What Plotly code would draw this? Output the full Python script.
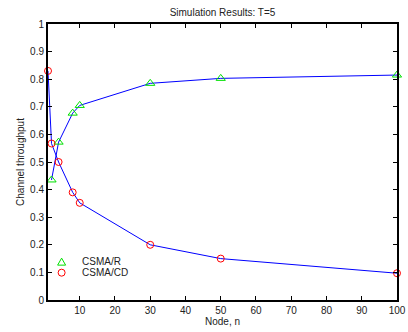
import plotly.graph_objects as go

nodes_r = [2, 4, 8, 10, 30, 50, 100]
csma_r = [0.435, 0.572, 0.677, 0.705, 0.785, 0.803, 0.815]
nodes_cd = [1, 2, 4, 8, 10, 30, 50, 100]
csma_cd = [0.830, 0.567, 0.500, 0.390, 0.352, 0.200, 0.150, 0.097]
legend_names = ["CSMA/R", "CSMA/CD"]

x_ticks = [10, 20, 30, 40, 50, 60, 70, 80, 90, 100]
y_ticks = [0, 0.1, 0.2, 0.3, 0.4, 0.5, 0.6, 0.7, 0.8, 0.9, 1]

FONT = "Liberation Sans, Arial, Helvetica"
TXT = "#222222"
GREEN = "#00e000"
RED = "#ff0000"

fig = go.Figure()
fig.add_trace(go.Scatter(x=nodes_r, y=csma_r, mode="lines", line=dict(color="#0000ff", width=1),
                         showlegend=False, hoverinfo="skip"))
fig.add_trace(go.Scatter(x=nodes_cd, y=csma_cd, mode="lines", line=dict(color="#0000ff", width=1),
                         showlegend=False, hoverinfo="skip"))
fig.add_trace(go.Scatter(x=nodes_r, y=csma_r, mode="markers", name=legend_names[0], showlegend=False,
                         cliponaxis=False,
                         marker=dict(symbol="triangle-up-open", size=8, color=GREEN, line=dict(width=1))))
fig.add_trace(go.Scatter(x=nodes_cd, y=csma_cd, mode="markers", name=legend_names[1], showlegend=False,
                         cliponaxis=False,
                         marker=dict(symbol="circle-open", size=7, color=RED, line=dict(width=1))))

# legend drawn as shapes + annotations (compact MATLAB-style spacing)
lx, ly = 0.039, [0.139, 0.099]
fig.add_shape(type="path", xref="paper", yref="paper", xsizemode="pixel", ysizemode="pixel",
              xanchor=lx, yanchor=ly[0], path="M -4 -3.5 L 4 -3.5 L 0 3.5 Z",
              line=dict(color=GREEN, width=1))
fig.add_shape(type="circle", xref="paper", yref="paper", xsizemode="pixel", ysizemode="pixel",
              xanchor=lx, yanchor=ly[1], x0=-3.5, x1=3.5, y0=-3.5, y1=3.5,
              line=dict(color=RED, width=1))
for name, yy in zip(legend_names, ly):
    fig.add_annotation(text=name, xref="paper", yref="paper", x=0.092, y=yy, xanchor="left",
                       yanchor="middle", showarrow=False, font=dict(family=FONT, size=10, color=TXT))

axis_common = dict(showline=True, linecolor="black", linewidth=2, mirror="ticks",
                   ticks="inside", ticklen=4, tickcolor="black", showgrid=False, zeroline=False,
                   automargin=False, ticklabeloverflow="allow",
                   tickfont=dict(family=FONT, size=10, color=TXT))
fig.update_layout(
    width=408, height=332,
    margin=dict(l=48, r=11, t=24, b=32),
    paper_bgcolor="white", plot_bgcolor="white",
    title=dict(text="Simulation Results: T=5", x=0.5453, xanchor="center", y=0.962, yanchor="middle",
               font=dict(family=FONT, size=10, color=TXT)),
    xaxis=dict(range=[1, 100], tickvals=x_ticks, title=dict(text="Node, n", standoff=2,
               font=dict(family=FONT, size=10, color=TXT)), **axis_common),
    yaxis=dict(range=[0, 1], tickvals=y_ticks, title=dict(text="Channel throughput", standoff=4,
               font=dict(family=FONT, size=10, color=TXT)), **axis_common),
)
fig.write_html("out.html", config={"displayModeBar": False},
               post_script="document.body.style.margin='0';document.body.style.overflow='hidden';")
